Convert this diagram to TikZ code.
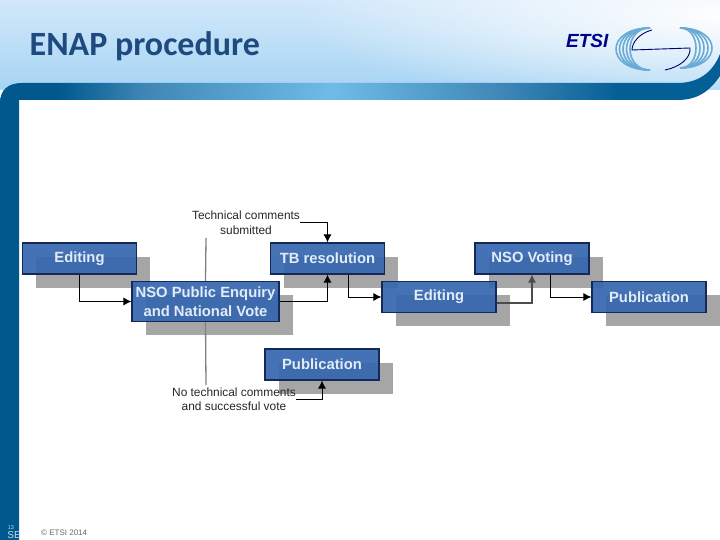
\documentclass[tikz,border=0pt]{standalone}
\usepackage{fontspec}
\setmainfont{Liberation Sans}
\newfontfamily\titlefont{Carlito}
\usetikzlibrary{arrows.meta,shadows,fadings}
\definecolor{etsiDark}{HTML}{00588C}
\definecolor{boxFill}{HTML}{3566AE}
\definecolor{boxLine}{HTML}{12295A}
\definecolor{boxText}{HTML}{E2ECF8}
\definecolor{titleBlue}{HTML}{1F4A7F}
\definecolor{shadowGrey}{HTML}{A6A6A6}
\definecolor{ringBlue}{HTML}{6AABD6}
\definecolor{skyTop}{HTML}{D2E8FA}
\definecolor{skyLow}{HTML}{A6D4F4}
\definecolor{bandMid}{HTML}{3F86B6}
\definecolor{bandPeak}{HTML}{70BBE8}
\definecolor{bandEnd}{HTML}{045F96}
\pgfdeclarehorizontalshading{bandShade}{100bp}{
    color(0bp)=(etsiDark);
    color(29bp)=(etsiDark);
    color(35bp)=(bandMid);
    color(48bp)=(bandPeak);
    color(60bp)=(bandMid);
    color(68bp)=(bandEnd);
    color(100bp)=(bandEnd)}
\tikzfading[name=glowFade, inner color=transparent!0, outer color=transparent!100]
\tikzset{
    stepbox/.style={draw=boxLine, line width=1.1pt, fill=boxFill, fill opacity=0.92, text opacity=1,
        text=boxText, font=\bfseries\fontsize{14.8}{19}\selectfont, align=center,
        minimum width=114pt, minimum height=31pt, inner sep=0pt,
        copy shadow={shadow xshift=13.5pt, shadow yshift=-13.5pt, fill=shadowGrey, draw=none, fill opacity=1}},
    notelabel/.style={font=\fontsize{11.9}{14.5}\selectfont, text=black!85, align=center, inner sep=0pt},
    flow/.style={draw=black, line width=0.9pt, -{Latex[length=8pt,width=8pt]}},
    split/.style={draw=black!50, line width=1.3pt}
}
\begin{document}
\begin{tikzpicture}[x=1pt,y=-1pt]
    \useasboundingbox (0,0) rectangle (720,540);

    % Header background
    \shade[top color=skyTop, bottom color=skyLow] (0,0) rectangle (720,90);
    \fill[white, path fading=glowFade] (730,15) ellipse[x radius=430pt, y radius=95pt];

    % Band and left bar
    \shade[shading=bandShade] (0,540) -- (0,103) .. controls (0,90) and (8,83) .. (22,83)
        -- (677,83) .. controls (697,83) and (712,74) .. (720,54)
        -- (720,76) .. controls (709,92) and (697,100) .. (677,100)
        -- (19,100) -- (19,540) -- cycle;

    % Title and logo
    \node[font=\titlefont\bfseries\fontsize{34}{36}\selectfont, text=titleBlue, anchor=west, inner sep=0pt] (title) at (29.5,46) {ENAP procedure};
    \node[font=\bfseries\itshape\fontsize{19}{22}\selectfont, text=blue!55!black, anchor=west, inner sep=0pt] (logotext) at (566,41) {ETSI};
    \foreach \b in {616,619.5,623,626.5,630} {
        \draw[ringBlue, line width=1.6pt] (650,28) .. controls ({650-(650-\b)/0.75},28) and ({650-(650-\b)/0.75},70) .. (650,70);
    }
    \foreach \b in {696,700,704,708,712} {
        \draw[ringBlue, line width=1.6pt] (680,28) .. controls ({680+(\b-680)/0.75},28) and ({680+(\b-680)/0.75},68) .. (680,68);
    }
    \draw[blue!40!black, line width=0.9pt] (652,30) .. controls (640,33) and (632,42) .. (632,50) -- (690,48)
        .. controls (691,58) and (680,67) .. (665,70);

    % Steps
    \node[stepbox] (editA) at (79.5,258.5) {Editing};
    \node[stepbox] (tbres) at (327.5,258.5) {TB resolution};
    \node[stepbox] (voting) at (532,258.5) {NSO Voting};
    \node[stepbox] (editB) at (439,297) {Editing};
    \node[stepbox] (pubB) at (649,297) {Publication};
    \node[stepbox, minimum width=147pt, minimum height=40pt] (nso) at (205.5,301.5) {NSO Public Enquiry\\and National Vote};
    \node[stepbox] (pubA) at (322,364.5) {Publication};

    % Notes
    \node[notelabel] (techNote) at (246,222.5) {Technical comments\\submitted};
    \node[notelabel] (noTechNote) at (234,399) {No technical comments\\and successful vote};

    % Split line
    \coordinate (splitTop) at (206,238);
    \coordinate (splitBottom) at (206,385);
    \draw[split] (splitTop) -- (nso.north);
    \draw[split] (nso.south) -- (splitBottom);

    % Connectors
    \draw[flow] (editA.south) |- (nso.west);
    \draw[flow] (nso.east) -| (tbres.south);
    \draw[flow] ([xshift=21pt]tbres.south) |- (editB.west);
    \draw[flow, draw=black!70, line width=1.2pt] ([yshift=-6pt]editB.east) -| (voting.south);
    \draw[flow] ([xshift=18.5pt]voting.south) |- (pubB.west);
    \draw[flow] (techNote.east) -| (tbres.north);
    \draw[flow] (noTechNote.east) -| (pubA.south);

    % Footer
    \node[font=\fontsize{8}{10}\selectfont, text=black!60, anchor=west, inner sep=0pt] (copyright) at (41,533) {© ETSI 2014};
    \node[font=\fontsize{5.5}{6}\selectfont, text=ringBlue!40!white, inner sep=0pt] (slideNo) at (11,528) {13};
    \node[font=\fontsize{10}{10}\selectfont, text=ringBlue!40!white, inner sep=0pt] (slideTag) at (14,535) {SE};
\end{tikzpicture}
\end{document}
